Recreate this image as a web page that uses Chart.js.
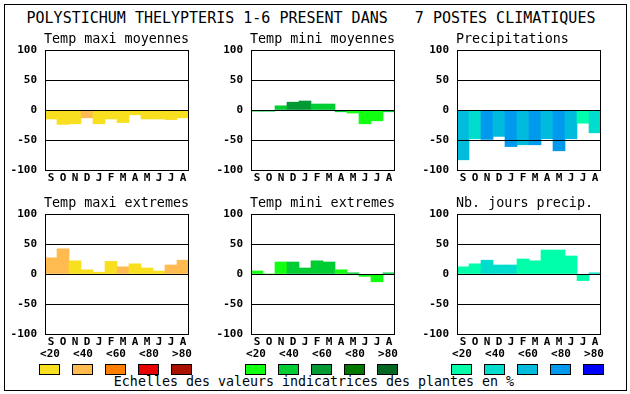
<!DOCTYPE html>
<html>
<head>
<meta charset="utf-8">
<script src="https://cdn.jsdelivr.net/npm/chart.js@4.4.0/dist/chart.umd.min.js"></script>
<style>
  body { margin: 0; background: #fff; }
  #page { position: relative; width: 630px; height: 394px; overflow: hidden; font-family: "DejaVu Sans Mono", monospace; color: #000; }
  #frame { position: absolute; left: 4px; top: 4px; width: 623px; height: 387px; border: 1px solid #000; box-sizing: border-box; }
  #mainTitle { position: absolute; left: 0; top: 9px; width: 622px; text-align: center; font-size: 15px; line-height: 18px; white-space: pre; }
  #footer { position: absolute; left: 0; top: 374px; width: 628px; text-align: center; font-size: 13.3px; line-height: 16px; white-space: pre; }
  canvas { position: absolute; }
  .lgLabel { position: absolute; width: 30px; text-align: center; font-size: 11px; font-weight: bold; line-height: 14px; top: 347px; }
  .lgBox { position: absolute; width: 21px; height: 11px; top: 364px; border: 1px solid #000; box-sizing: border-box; }
</style>
</head>
<body>
<div id="page">
  <div id="frame"></div>
  <div id="mainTitle">POLYSTICHUM THELYPTERIS 1-6 PRESENT DANS   7 POSTES CLIMATIQUES</div>
  <div id="footer">Echelles des valeurs indicatrices des plantes en %</div>
</div>
<script>
// months Sept -> Aug
const months = ['S', 'O', 'N', 'D', 'J', 'F', 'M', 'A', 'M', 'J', 'J', 'A'];
const yTicks = [-100, -50, 0, 50, 100];
const classLabels = ['<20', '<40', '<60', '<80', '>80'];

// colour scales (one colour per class)
const warmColors = ['#f8e020', '#ffbb50', '#ff8000', '#e80000', '#aa1100'];
const greenColors = ['#11ff11', '#00cc33', '#009933', '#007700', '#006622'];
const blueColors = ['#00ffaa', '#00ddcc', '#00bbdd', '#0099ee', '#0000ff'];

// Temp maxi moyennes
const maxiMoyValues = [-15, -24, -23, -13, -23, -15, -21, -8, -15, -15, -16, -13];
const maxiMoyClasses = [0, 0, 0, 1, 0, 0, 0, 0, 0, 0, 0, 0];
// Temp mini moyennes
const miniMoyValues = [-2, -2, 7, 13, 15, 10, 10, -3, -5, -23, -18, -3];
const miniMoyClasses = [1, 1, 1, 2, 2, 1, 1, 1, 0, 0, 0, 1];
// Precipitations
const precipValues = [-83, -48, -49, -44, -61, -58, -58, -48, -68, -48, -22, -38];
const precipClasses = [2, 1, 3, 2, 3, 2, 3, 2, 3, 2, 0, 1];
// Temp maxi extremes
const maxiExtValues = [27, 42, 22, 7, 3, 21, 12, 17, 10, 5, 15, 23];
const maxiExtClasses = [1, 1, 0, 0, 0, 0, 1, 0, 0, 0, 1, 1];
// Temp mini extremes
const miniExtValues = [5, 0, 20, 20, 10, 22, 20, 7, 2, -4, -13, 2];
const miniExtClasses = [0, 0, 0, 1, 1, 1, 1, 0, 1, 0, 0, 1];
// Nb. jours precip.
const joursValues = [12, 17, 23, 15, 15, 25, 22, 40, 40, 30, -11, 2];
const joursClasses = [0, 0, 1, 1, 1, 0, 0, 0, 0, 0, 0, 1];

const panels = [
    { title: 'Temp maxi moyennes', values: maxiMoyValues, classes: maxiMoyClasses, colors: warmColors, left: 0, top: 28 },
    { title: 'Temp mini moyennes', values: miniMoyValues, classes: miniMoyClasses, colors: greenColors, left: 206, top: 28 },
    { title: 'Precipitations', values: precipValues, classes: precipClasses, colors: blueColors, left: 412, top: 28 },
    { title: 'Temp maxi extremes', values: maxiExtValues, classes: maxiExtClasses, colors: warmColors, left: 0, top: 192 },
    { title: 'Temp mini extremes', values: miniExtValues, classes: miniExtClasses, colors: greenColors, left: 206, top: 192 },
    { title: 'Nb. jours precip.', values: joursValues, classes: joursClasses, colors: blueColors, left: 412, top: 192 }
];

const monoFont = '"DejaVu Sans Mono", monospace';

// panel title + frame round the plot area
const panelDecor = {
    id: 'panelDecor',
    afterDraw(chart, args, opts) {
        const ctx = chart.ctx;
        const a = chart.chartArea;
        ctx.save();
        ctx.strokeStyle = '#000';
        ctx.lineWidth = 1;
        ctx.strokeRect(a.left + 0.5, a.top + 0.5, a.right - a.left - 1, a.bottom - a.top);
        ctx.fillStyle = '#000';
        ctx.font = '13.4px ' + monoFont;
        ctx.textAlign = 'left';
        ctx.textBaseline = 'alphabetic';
        ctx.fillText(opts.text, a.left - 1, a.top - 7);
        ctx.restore();
    }
};

const page = document.getElementById('page');

panels.forEach(function (p) {
    let canvas = document.createElement('canvas');
    canvas.width = 200;
    canvas.height = 162;
    canvas.style.left = p.left + 'px';
    canvas.style.top = p.top + 'px';
    page.appendChild(canvas);

    new Chart(canvas.getContext('2d'), {
        type: 'bar',
        data: {
            labels: months,
            datasets: [{
                data: p.values,
                backgroundColor: p.classes.map(c => p.colors[c]),
                borderWidth: 0,
                barPercentage: 1,
                categoryPercentage: 1
            }]
        },
        options: {
            responsive: false,
            animation: false,
            devicePixelRatio: 1,
            layout: { padding: { top: 22, right: 11, left: 0, bottom: 0 } },
            plugins: {
                legend: { display: false },
                tooltip: { enabled: false },
                panelDecor: { text: p.title }
            },
            scales: {
                x: {
                    grid: { display: false, drawTicks: false },
                    border: { display: false },
                    ticks: { color: '#000', font: { family: monoFont, size: 11, weight: 'bold' }, padding: 2, maxRotation: 0, autoSkip: false },
                    afterFit: function (scale) { scale.height = 20; }
                },
                y: {
                    min: -100,
                    max: 100,
                    afterBuildTicks: function (scale) { scale.ticks = yTicks.map(v => ({ value: v })); },
                    grid: { color: '#000', lineWidth: 1, drawTicks: false, z: 1 },
                    border: { display: false },
                    ticks: { color: '#000', font: { family: monoFont, size: 11, weight: 'bold' }, padding: 8 },
                    afterFit: function (scale) { scale.width = 45; }
                }
            }
        },
        plugins: [panelDecor]
    });
});

// colour class legends under each column
const legendGroups = [
    { colors: warmColors, left: 39 },
    { colors: greenColors, left: 245 },
    { colors: blueColors, left: 451 }
];
legendGroups.forEach(function (g) {
    classLabels.forEach(function (lab, i) {
        let x = g.left + Math.round(i * 33);
        let label = document.createElement('div');
        label.className = 'lgLabel';
        label.style.left = (x - 4) + 'px';
        label.textContent = lab;
        page.appendChild(label);

        let box = document.createElement('div');
        box.className = 'lgBox';
        box.style.left = x + 'px';
        box.style.background = g.colors[i];
        page.appendChild(box);
    });
});
</script>
</body>
</html>
